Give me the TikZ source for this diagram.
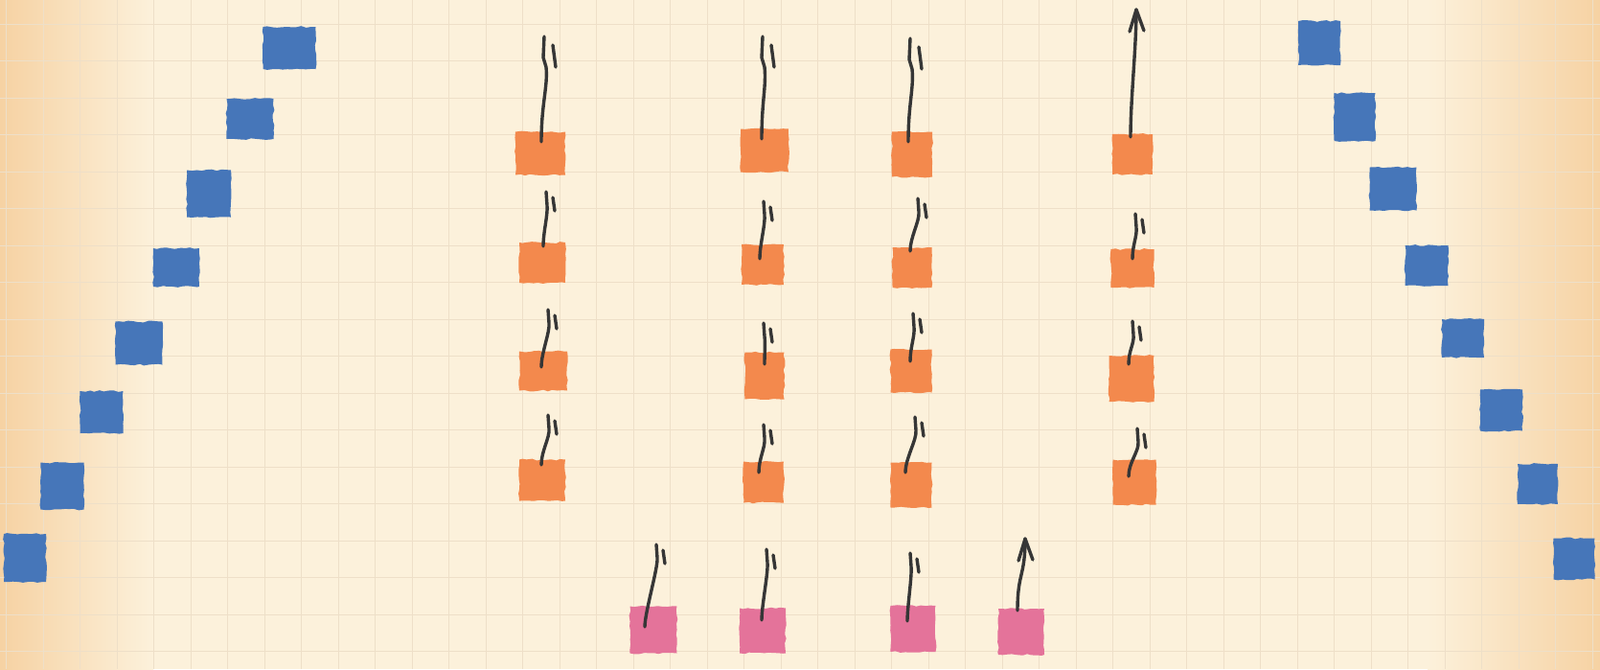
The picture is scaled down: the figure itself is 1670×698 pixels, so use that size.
\documentclass[tikz,border=0pt]{standalone}
\usetikzlibrary{decorations.pathmorphing}
\definecolor{paper}{HTML}{FCF1DB}
\definecolor{paperedge}{HTML}{F6D2A3}
\definecolor{gridc}{HTML}{EEDFC8}
\definecolor{crayorange}{HTML}{F3894D}
\definecolor{crayblue}{HTML}{4676B9}
\definecolor{craypink}{HTML}{E4739A}
\definecolor{pencil}{HTML}{363636}
\tikzset{
  sqbase/.style={draw=none, inner sep=0pt, outer sep=0pt, decorate,
    decoration={random steps, segment length=2.5pt, amplitude=0.45pt}},
  osq/.style={sqbase, fill=crayorange},
  bsq/.style={sqbase, fill=crayblue},
  psq/.style={sqbase, fill=craypink},
  gridline/.style={draw=gridc, line width=0.45pt},
  stem/.style={draw=pencil, line width=1.7pt, line cap=round, line join=round},
}
% #1 style, #2 name, #3 x, #4 y, #5 w, #6 h  (pixel units)
\newcommand\mksq[6]{\node[#1, minimum width={#5*0.5pt}, minimum height={#6*0.5pt}] (#2) at (#3,#4) {};}
% short half-barbed arrow: #1 node, #2 dx, #3 dy, #4 tip name, #5 tx, #6 ty
\newcommand\harr[6]{%
  \coordinate (#4) at (#5,#6);
  \draw[stem] ([shift={(#2,#3)}]#1.center) .. controls +(0,-15) and +(1,10) .. ([shift={(1,14)}]#4) -- (#4);
  \draw[stem] ([shift={(7,6)}]#4) -- ([shift={(9,20)}]#4);
}
% long half-barbed arrow
\newcommand\harrL[6]{%
  \coordinate (#4) at (#5,#6);
  \draw[stem] ([shift={(#2,#3)}]#1.center) .. controls +(0,-40) and +(2,20) .. ([shift={(2,32)}]#4) -- ([shift={(-1,22)}]#4) -- (#4);
  \draw[stem] ([shift={(9,9)}]#4) -- ([shift={(12,32)}]#4);
}
% full-headed arrow
\newcommand\farr[6]{%
  \coordinate (#4) at (#5,#6);
  \draw[stem] ([shift={(#2,#3)}]#1.center) .. controls +(0,-40) and +(0,40) .. (#4);
  \draw[stem] ([shift={(-7,23)}]#4) -- (#4) -- ([shift={(8,22)}]#4);
}
\begin{document}
\begin{tikzpicture}[x=0.5pt,y=-0.5pt]
\useasboundingbox (0,0) rectangle (1670,698);
% paper
\fill[paper] (0,0) rectangle (1670,698);
\fill[left color=paperedge, right color=paper] (0,0) rectangle (160,698);
\fill[left color=paper, right color=paperedge] (1490,0) rectangle (1670,698);
\foreach \i in {0,...,43} \draw[gridline] ({6.5+38.5*\i},0) -- ++(0,698);
\foreach \j in {0,...,17} \draw[gridline] (0,{25+38.5*\j}) -- ++(1670,0);

% left blue staircase
\mksq{bsq}{bl1}{302}{50}{55}{44}
\mksq{bsq}{bl2}{261}{124}{49}{42}
\mksq{bsq}{bl3}{218}{202}{46}{49}
\mksq{bsq}{bl4}{184}{279}{48}{40}
\mksq{bsq}{bl5}{145}{358}{49}{45}
\mksq{bsq}{bl6}{106}{430}{45}{44}
\mksq{bsq}{bl7}{65}{507}{45}{49}
\mksq{bsq}{bl8}{26}{582}{44}{50}
% right blue staircase
\mksq{bsq}{br1}{1377}{45}{44}{46}
\mksq{bsq}{br2}{1414}{122}{43}{50}
\mksq{bsq}{br3}{1454}{197}{49}{45}
\mksq{bsq}{br4}{1489}{277}{45}{42}
\mksq{bsq}{br5}{1527}{353}{44}{40}
\mksq{bsq}{br6}{1567}{428}{44}{43}
\mksq{bsq}{br7}{1605}{505}{42}{42}
\mksq{bsq}{br8}{1643}{583}{43}{43}

% orange grid
\mksq{osq}{o11}{564}{160}{52}{45}
\mksq{osq}{o12}{798}{157}{50}{45}
\mksq{osq}{o13}{952}{161}{42}{47}
\mksq{osq}{o14}{1182}{161}{42}{42}
\mksq{osq}{o21}{566}{274}{48}{42}
\mksq{osq}{o22}{796}{276}{44}{42}
\mksq{osq}{o23}{952}{279}{41}{42}
\mksq{osq}{o24}{1182}{280}{45}{40}
\mksq{osq}{o31}{567}{387}{50}{41}
\mksq{osq}{o32}{798}{392}{41}{49}
\mksq{osq}{o33}{951}{387}{43}{45}
\mksq{osq}{o34}{1181}{395}{47}{48}
\mksq{osq}{o41}{566}{501}{48}{43}
\mksq{osq}{o42}{797}{503}{42}{43}
\mksq{osq}{o43}{951}{506}{43}{47}
\mksq{osq}{o44}{1184}{503}{45}{47}
% pink row
\mksq{psq}{p1}{682}{657}{49}{49}
\mksq{psq}{p2}{796}{658}{48}{47}
\mksq{psq}{p3}{953}{656}{47}{48}
\mksq{psq}{p4}{1066}{659}{48}{48}

% arrows
\harrL{o11}{1}{-12}{t11}{568}{38}
\harrL{o12}{-3}{-12}{t12}{796}{38}
\harrL{o13}{-4}{-13}{t13}{950}{40}
\farr{o14}{-2}{-18}{t14}{1186}{10}
\harr{o21}{1}{-17}{t21}{570}{200}
\harr{o22}{-3}{-6}{t22}{797}{210}
\harr{o23}{-2}{-17}{t23}{958}{207}
\harr{o24}{0}{-10}{t24}{1185}{223}
\harr{o31}{-2}{-4}{t31}{572}{323}
\harr{o32}{0}{-12}{t32}{797}{337}
\harr{o33}{-1}{-10}{t33}{953}{327}
\harr{o34}{-3}{-15}{t34}{1182}{335}
\harr{o41}{-1}{-16}{t41}{572}{433}
\harr{o42}{-5}{-10}{t42}{797}{443}
\harr{o43}{-6}{-13}{t43}{955}{435}
\harr{o44}{-6}{-6}{t44}{1187}{447}
\harr{p1}{-9}{-3}{tp1}{685}{568}
\harr{p2}{-1}{-11}{tp2}{800}{573}
\harr{p3}{-6}{-8}{tp3}{950}{577}
\farr{p4}{-4}{-22}{tp4}{1070}{562}
\end{tikzpicture}
\end{document}
